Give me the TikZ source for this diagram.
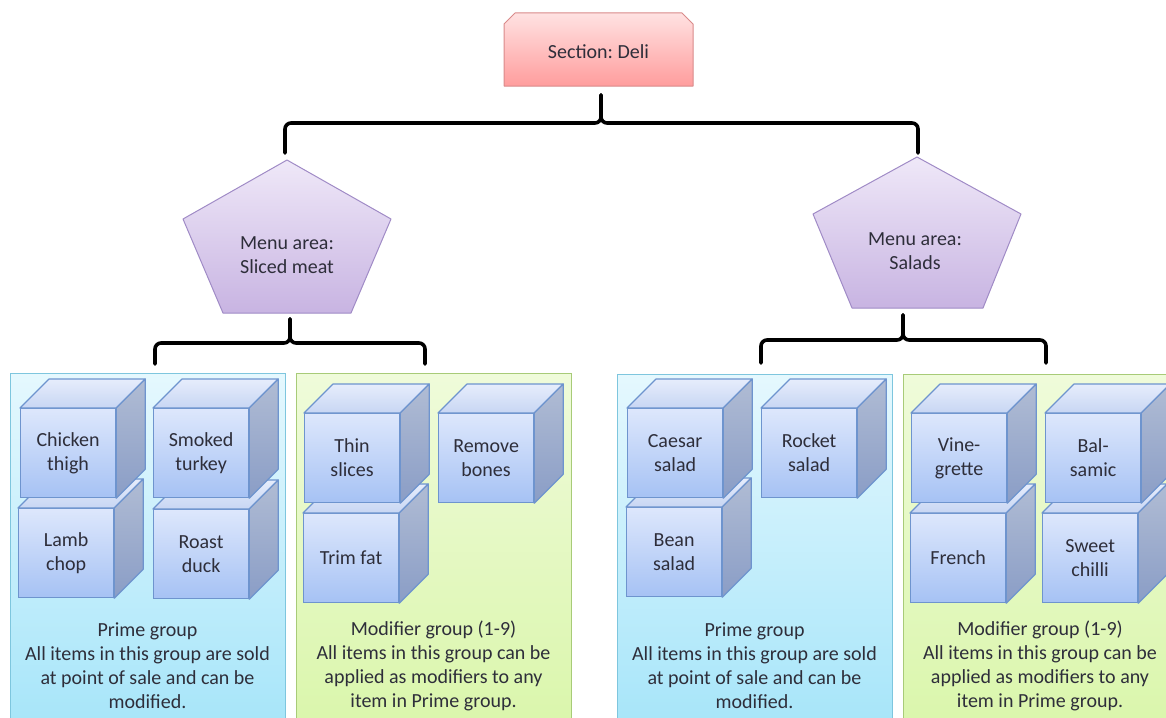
\documentclass[tikz,border=0pt]{standalone}
\usepackage{fontspec}
\setmainfont{Carlito}
\usetikzlibrary{calc}
\definecolor{txtcol}{HTML}{2E2E3A}
\definecolor{secA}{HTML}{FFE2E2}
\definecolor{secB}{HTML}{FF9D9D}
\definecolor{secE}{HTML}{D98A8A}
\definecolor{penA}{HTML}{EFE8F8}
\definecolor{penB}{HTML}{C8B4E2}
\definecolor{penE}{HTML}{A08BC6}
\definecolor{bluA}{HTML}{E5F8FE}
\definecolor{bluB}{HTML}{A6E5F9}
\definecolor{bluE}{HTML}{7EC6DE}
\definecolor{grnA}{HTML}{EFFBDA}
\definecolor{grnB}{HTML}{DAF6AB}
\definecolor{grnE}{HTML}{A8CB78}
\definecolor{cubF1}{HTML}{DDE7FC}
\definecolor{cubF2}{HTML}{A6C2F4}
\definecolor{cubT1}{HTML}{E6EDFC}
\definecolor{cubT2}{HTML}{C8D6F3}
\definecolor{cubR1}{HTML}{B0BCD4}
\definecolor{cubR2}{HTML}{8A9DC6}
\definecolor{cubE}{HTML}{6E94CE}
\tikzset{
  txt/.style={font=\fontsize{20}{24}\selectfont, text=txtcol, align=center, inner sep=0pt},
  brace/.style={line width=3.6pt, black, line cap=round, line join=round, rounded corners=6pt},
  cubefront/.style={draw=cubE, line width=1.2pt, top color=cubF1, bottom color=cubF2,
     minimum width=95pt, minimum height=89pt, txt, anchor=north west},
  cubetop/.style={draw=cubE, line width=1.2pt, top color=cubT1, bottom color=cubT2, line join=round},
  cuberight/.style={draw=cubE, line width=1.2pt, top color=cubR1, bottom color=cubR2, line join=round},
  bluepanel/.style={draw=bluE, line width=1pt, top color=bluA, bottom color=bluB},
  greenpanel/.style={draw=grnE, line width=1pt, top color=grnA, bottom color=grnB},
  pent/.style={draw=penE, line width=1pt, top color=penA, bottom color=penB, line join=round},
  secbox/.style={draw=secE, line width=1pt, top color=secA, bottom color=secB, line join=round},
}
\newcommand\mkcube[4]{%
  \node[cubefront] (#1) at (#2,#3) {#4};
  \path[cubetop] (#1.north west) -- ([shift={(29,-29)}]#1.north west) -- ([shift={(29,-29)}]#1.north east) -- (#1.north east) -- cycle;
  \path[cuberight] (#1.north east) -- ([shift={(29,-29)}]#1.north east) -- ([shift={(29,-29)}]#1.south east) -- (#1.south east) -- cycle;
}
\newcommand\mkbrace[6]{% left x, right x, centre x, horizontal y, stem top y, ends bottom y
  \coordinate (bl) at (#1,#6);
  \coordinate (br) at (#2,#6);
  \coordinate (bt) at (#3,#5);
  \draw[brace] (bl) -- (#1,#4) -- (#3,#4) -- (bt);
  \draw[brace] (br) -- (#2,#4) -- (#3,#4) -- (bt);
}
\begin{document}
\begin{tikzpicture}[x=1pt,y=-1pt]
\useasboundingbox (0,0) rectangle (1166,717);
\clip (0,0) rectangle (1166,717);

% Section box
\path[secbox] (504,86) -- (504,24) -- (515,13) -- (682,13) -- (693,24) -- (693,86) -- cycle;
\node[txt] (sec) at (598.5,52) {Section:\ Deli};

% Pentagons
\path[pent] (287,160) -- (391,219) -- (351,313) -- (223,313) -- (183,219) -- cycle;
\node[txt] (pm) at (287,255) {Menu area:\\Sliced meat};
\path[pent] (917,157) -- (1021,214) -- (983,308) -- (852,308) -- (813,214) -- cycle;
\node[txt] (ps) at (915,251) {Menu area:\\Salads};

% Braces
\mkbrace{285}{918}{601}{123}{95}{153}
\mkbrace{155}{425}{290}{343}{319}{364}
\mkbrace{761}{1046}{903}{340}{315}{363}

% Panels
\path[bluepanel] (10,373) rectangle (285,730);
\path[greenpanel] (296,373) rectangle (571,730);
\path[bluepanel] (617,374) rectangle (892,730);
\path[greenpanel] (903,374) rectangle (1177,730);

% Cubes
\mkcube{lamb}{18}{508}{Lamb\\chop}
\mkcube{duck}{153}{509}{Roast\\duck}
\mkcube{chicken}{20}{408}{Chicken\\thigh}
\mkcube{turkey}{153}{408}{Smoked\\turkey}

\mkcube{trim}{303}{513}{Trim fat}
\mkcube{thin}{304}{413}{Thin\\slices}
\mkcube{bones}{438}{413}{Remove\\bones}

\mkcube{bean}{626}{507}{Bean\\salad}
\mkcube{caesar}{627}{408}{Caesar\\salad}
\mkcube{rocket}{761}{408}{Rocket\\salad}

\mkcube{french}{910}{513}{French}
\mkcube{chilli}{1042}{513}{Sweet\\chilli}
\mkcube{vine}{911}{413}{Vine-\\grette}
\mkcube{balsamic}{1045}{413}{Bal-\\samic}

% Group texts
\node[txt] (g1) at (147.5,666) {Prime group\\All items in this group are sold\\at point of sale and can be\\modified.};
\node[txt] (g2) at (433.5,666) {Modifier group (1-9)\\All items in this group can be\\applied as modifiers to any\\item in Prime group.};
\node[txt] (g3) at (754.5,666) {Prime group\\All items in this group are sold\\at point of sale and can be\\modified.};
\node[txt] (g4) at (1040,666) {Modifier group (1-9)\\All items in this group can be\\applied as modifiers to any\\item in Prime group.};
\end{tikzpicture}
\end{document}
